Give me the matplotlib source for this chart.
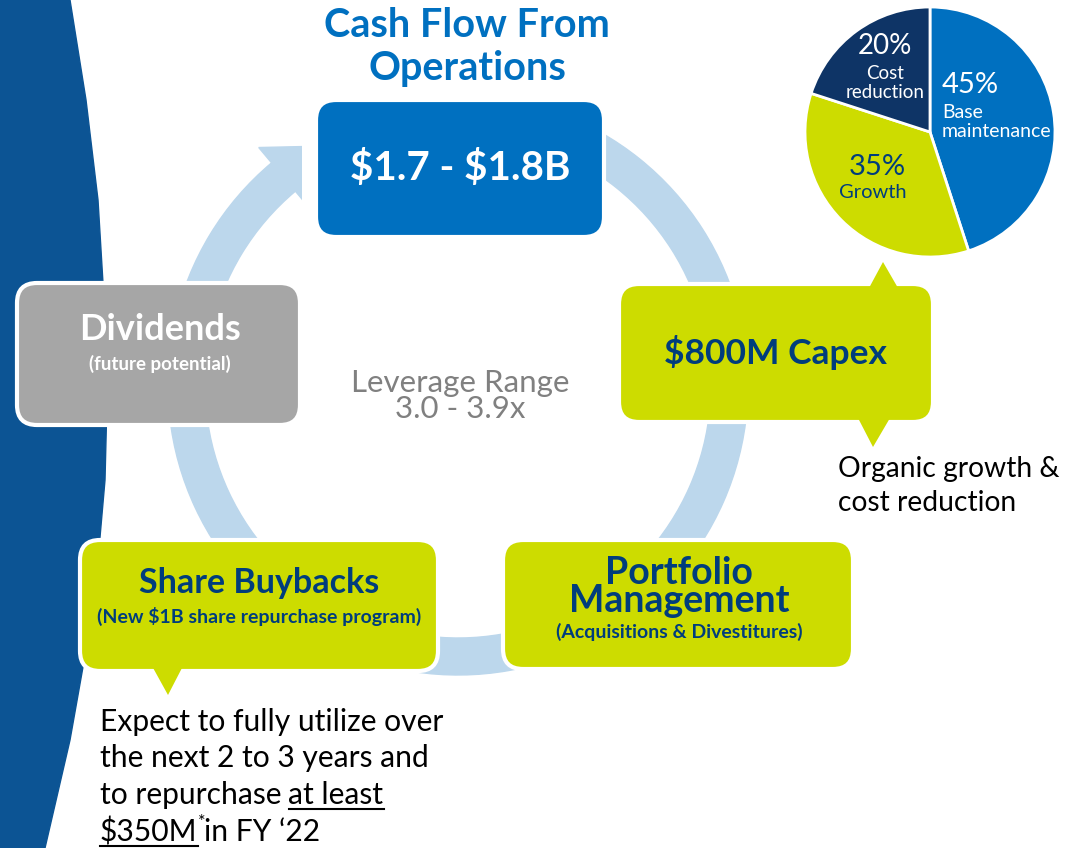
import matplotlib
matplotlib.use("Agg")
import numpy as np
import matplotlib.pyplot as plt
from matplotlib.patches import FancyBboxPatch, Polygon, Wedge, Rectangle

plt.rcParams['font.family'] = ['Lato', 'DejaVu Sans']
plt.rcParams['text.parse_math'] = False

W, H = 1076, 848

# data
pie_labels = ["Base\nmaintenance", "Growth", "Cost\nreduction"]
pie_values = [45, 35, 20]
pie_colors = ["#0070c0", "#cddc00", "#0e3466"]
title = "Cash Flow From\nOperations"
cash_range = "$1.7 - $1.8B"
capex = "$800M Capex"
leverage = "Leverage Range\n3.0 - 3.9x"

BLUE = "#0070c0"
LIME = "#cddc00"
NAVY = "#003d7c"
GRAY = "#a6a6a6"
RING = "#bcd7ec"
BAND = "#0c5494"

fig = plt.figure(figsize=(W / 100, H / 100), dpi=100)
ax = fig.add_axes([0, 0, 1, 1])
ax.set_xlim(0, W)
ax.set_ylim(H, 0)
ax.axis('off')

# left band
band = [(0, 0), (70, 0), (86, 100), (98, 200), (104, 300), (107, 400), (105, 480),
        (98, 560), (86, 650), (70, 740), (45, 848), (0, 848)]
ax.add_patch(Polygon(band, closed=True, color=BAND, zorder=1))

# circular arrow
cx, cy, R, bw = 458, 385, 290, 37
ax.add_patch(Wedge((cx, cy), R, -70, 230, width=bw, color=RING, zorder=2))
th = np.deg2rad(230)
tan = np.array([np.sin(th), -np.cos(th)])
rm = R - bw / 2
base_c = np.array([cx + rm * np.cos(th), cy + rm * np.sin(th)])
rad = np.array([np.cos(th), np.sin(th)])
p1 = base_c + rad * (bw / 2 + 20)
p2 = base_c - rad * (bw / 2 + 20)
tip = base_c - tan * 48
head = Polygon([p1, tip, p2], closed=True, color=RING, zorder=2)
ax.add_patch(head)
head.set_clip_path(Rectangle((0, 0), 302, H, transform=ax.transData))


def box(x0, y0, x1, y1, color, z=3):
    p = FancyBboxPatch((x0, y0), x1 - x0, y1 - y0,
                       boxstyle="round,pad=0,rounding_size=20",
                       fc=color, ec="white", lw=3, zorder=z)
    ax.add_patch(p)


def tri(pts, color):
    ax.add_patch(Polygon(pts, closed=True, fc=color, ec='none', zorder=4))


# boxes
box(316, 100, 604, 237, BLUE)
box(17, 283, 300, 425, GRAY)
box(619, 284, 933, 422, LIME)
tri([(869, 288), (883, 262), (898, 288)], LIME)
tri([(858, 418), (873, 447), (890, 418)], LIME)
box(80, 540, 438, 671, LIME)
tri([(152, 666), (168, 695), (183, 666)], LIME)
box(503, 540, 853, 669, LIME)

# texts
ax.text(467, 47, title, ha='center', va='center', fontsize=28.5, fontweight='bold',
        color=BLUE, linespacing=1.17, zorder=5)
ax.text(460, 168, cash_range, ha='center', va='center', fontsize=29,
        fontweight='bold', color='white', zorder=5)
ax.text(160, 330, "Dividends", ha='center', va='center', fontsize=26,
        fontweight='bold', color='white', zorder=5)
ax.text(160, 364, "(future potential)", ha='center', va='center', fontsize=13.5,
        fontweight='bold', color='white', zorder=5)
ax.text(776, 353, capex, ha='center', va='center', fontsize=25.5,
        fontweight='bold', color=NAVY, zorder=5)
ax.text(460, 396, leverage, ha='center', va='center', fontsize=22.5,
        color='#808080', linespacing=0.92, zorder=5)
ax.text(838, 486, "Organic growth &\ncost reduction", ha='left', va='center',
        fontsize=20.3, color='black', linespacing=1.38, zorder=5)
ax.text(259, 583, "Share Buybacks", ha='center', va='center', fontsize=24.5,
        fontweight='bold', color=NAVY, zorder=5)
ax.text(259, 616, "(New $1B share repurchase program)", ha='center', va='center',
        fontsize=14, fontweight='bold', color=NAVY, zorder=5)
ax.text(679, 587, "Portfolio\nManagement", ha='center', va='center', fontsize=27,
        fontweight='bold', color=NAVY, linespacing=0.8, zorder=5)
ax.text(679, 632, "(Acquisitions & Divestitures)", ha='center', va='center',
        fontsize=14, fontweight='bold', color=NAVY, zorder=5)

# bottom paragraph
fs = 21.6
ax.text(100, 722, "Expect to fully utilize over", ha='left', va='center', fontsize=fs, zorder=5)
ax.text(100, 758, "the next 2 to 3 years and", ha='left', va='center', fontsize=fs, zorder=5)
t3 = ax.text(100, 795, "to repurchase", ha='left', va='center', fontsize=fs, zorder=5)
t4 = ax.text(100, 832, "$350M", ha='left', va='center', fontsize=fs, zorder=5)
fig.canvas.draw()
r = fig.canvas.get_renderer()
inv = ax.transData.inverted()


def ext(t):
    bb = t.get_window_extent(r)
    (x0, y0), (x1, y1) = inv.transform([(bb.x0, bb.y0), (bb.x1, bb.y1)])
    return x0, x1


x0, x1 = ext(t3)
t5 = ax.text(x1 + 7, 795, "at least", ha='left', va='center', fontsize=fs, zorder=5)
fig.canvas.draw()
a0, a1 = ext(t5)
ax.plot([a0, a1], [809, 809], color='black', lw=1.5, zorder=5)
b0, b1 = ext(t4)
ax.plot([b0, b1], [846, 846], color='black', lw=1.5, zorder=5)
ts = ax.text(b1, 822, "*", ha='left', va='center', fontsize=13, zorder=5)
fig.canvas.draw()
s0, s1 = ext(ts)
ax.text(s1 - 1, 832, "in FY \u201822", ha='left', va='center', fontsize=fs, zorder=5)

# pie
pax = fig.add_axes([805 / W, (H - 257) / H, 250 / W, 250 / H])
pax.pie(pie_values, colors=pie_colors, startangle=90, counterclock=False, radius=1,
        wedgeprops=dict(edgecolor='white', linewidth=2))
pax.set_xlim(-1, 1)
pax.set_ylim(-1, 1)
pax.set_aspect('equal')
pax.axis('off')


def P(x, y):
    return (x - 930) / 125, (132 - y) / 125


pct = [f"{v}%" for v in pie_values]
pax.text(*P(942, 85), pct[0], ha='left', va='center', fontsize=21, color='white')
pax.text(*P(942, 122), pie_labels[0], ha='left', va='center', fontsize=14,
         color='white', linespacing=1.17)
pax.text(*P(877, 167), pct[1], ha='center', va='center', fontsize=21, color=NAVY)
pax.text(*P(873, 193), pie_labels[1], ha='center', va='center', fontsize=14.5, color=NAVY)
pax.text(*P(885, 46), pct[2], ha='center', va='center', fontsize=20, color='white')
pax.text(*P(885, 83), pie_labels[2], ha='center', va='center', fontsize=13.5,
         color='white', linespacing=1.17)

fig.savefig("out.png", dpi=100)
